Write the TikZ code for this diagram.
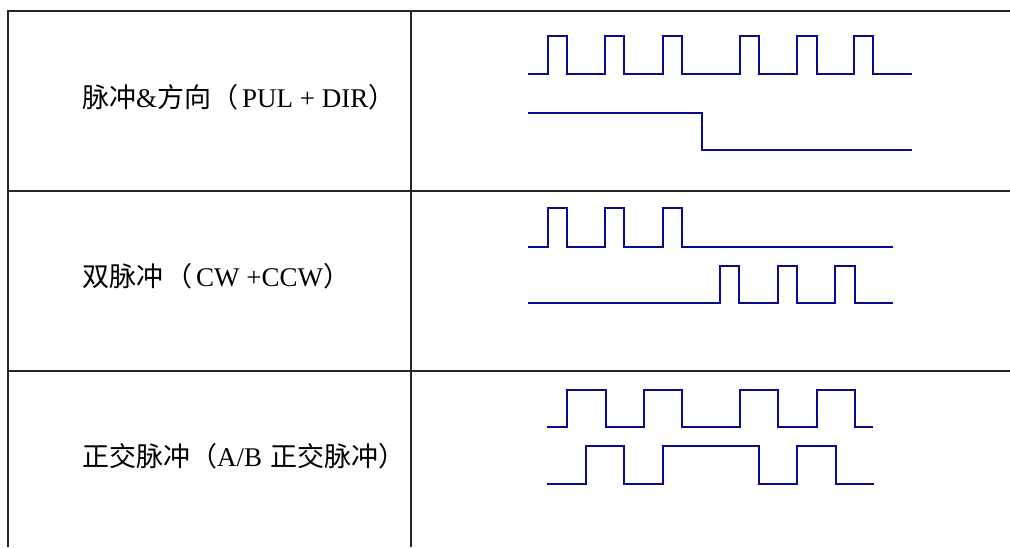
\documentclass[tikz,border=0pt]{standalone}
\usepackage{fontspec}
\setmainfont{Liberation Serif}
\newfontfamily\cjk{Noto Sans CJK SC}
\definecolor{wavecol}{RGB}{10,10,140}
\begin{document}
\begin{tikzpicture}[x=1pt,y=-1pt]
\tikzstyle{rule}=[line width=1.2pt, draw=black!85]
\tikzstyle{wave}=[line width=2pt, draw=wavecol, line join=miter]
\tikzstyle{label}=[anchor=base west, inner sep=0, font=\fontsize{27}{31}\selectfont]
\useasboundingbox (0,0) rectangle (1010,547);
% table
\draw[rule](8,547)--(8,11)--(1010,11);
\draw[rule](411,11)--(411,547);
\draw[rule](8,191)--(1010,191);
\draw[rule](8,371)--(1010,371);
% labels
\node[label] (pd) at(82,107){{\cjk 脉冲}\&{\cjk 方向（}\hspace{4pt}PUL + DIR{\cjk ）}};
\node[label] (cw) at(82,286){{\cjk 双脉冲\hspace{2pt}（}\hspace{4pt}CW +CCW{\cjk ）}};
\node[label] (ab) at(82,466){{\cjk 正交脉冲（}A/B\ \hspace{2pt}{\cjk 正交脉冲）}};
% pulse & direction
\draw[wave](528,74)--(548,74)--(548,36)--(567,36)--(567,74)
  --(605,74)--(605,36)--(624,36)--(624,74)
  --(663,74)--(663,36)--(682,36)--(682,74)
  --(740,74)--(740,36)--(759,36)--(759,74)
  --(797,74)--(797,36)--(817,36)--(817,74)
  --(854,74)--(854,36)--(873,36)--(873,74)--(912,74);
\draw[wave](528,113)--(702,113)--(702,150)--(912,150);
% CW + CCW
\draw[wave](528,247)--(548,247)--(548,208)--(567,208)--(567,247)
  --(605,247)--(605,208)--(624,208)--(624,247)
  --(663,247)--(663,208)--(682,208)--(682,247)--(893,247);
\draw[wave](528,303)--(720,303)--(720,266)--(739,266)--(739,303)
  --(778,303)--(778,266)--(797,266)--(797,303)
  --(835,303)--(835,266)--(855,266)--(855,303)--(893,303);
% A/B
\draw[wave](547,427)--(567,427)--(567,390)--(606,390)--(606,427)
  --(644,427)--(644,390)--(682,390)--(682,427)
  --(740,427)--(740,390)--(778,390)--(778,427)
  --(817,427)--(817,390)--(855,390)--(855,427)--(873,427);
\draw[wave](547,484)--(586,484)--(586,446)--(624,446)--(624,484)
  --(663,484)--(663,446)--(759,446)--(759,484)
  --(797,484)--(797,446)--(836,446)--(836,484)--(874,484);
\end{tikzpicture}
\end{document}
